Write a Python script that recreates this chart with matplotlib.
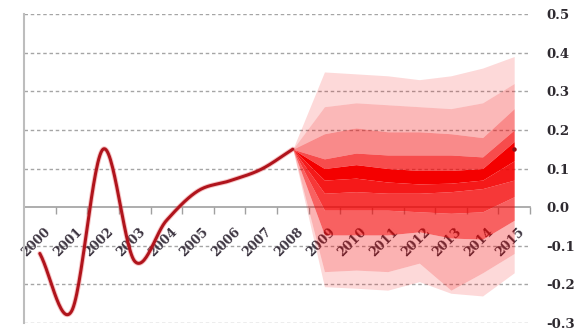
import numpy as np
import matplotlib
matplotlib.use("Agg")
import matplotlib.pyplot as plt
import matplotlib.transforms as mtransforms

# ---- data -------------------------------------------------------------
years = [str(y) for y in range(2000, 2016)]

# observed series, 2000-2008
hist_years = list(range(2000, 2009))
hist_values = [-0.12, -0.27, 0.15, -0.14, -0.035, 0.042, 0.068, 0.098, 0.15]

# projection fan, 2008-2015: band boundaries from top to bottom
fan_years = list(range(2008, 2016))
fan_b0 = [0.15, 0.350, 0.345, 0.340, 0.330, 0.340, 0.360, 0.390]
fan_b1 = [0.15, 0.260, 0.270, 0.265, 0.260, 0.255, 0.270, 0.320]
fan_b2 = [0.15, 0.190, 0.205, 0.195, 0.195, 0.190, 0.180, 0.255]
fan_b3 = [0.15, 0.125, 0.140, 0.135, 0.135, 0.135, 0.130, 0.200]
fan_b4 = [0.15, 0.100, 0.110, 0.100, 0.095, 0.095, 0.100, 0.170]
fan_b5 = [0.15, 0.070, 0.075, 0.065, 0.060, 0.062, 0.070, 0.120]
fan_b6 = [0.15, 0.036, 0.040, 0.036, 0.036, 0.040, 0.048, 0.070]
fan_b7 = [0.15, -0.008, -0.008, -0.008, -0.012, -0.016, -0.012, 0.027]
fan_b8 = [0.15, -0.072, -0.072, -0.072, -0.064, -0.080, -0.083, -0.034]
fan_b9 = [0.15, -0.167, -0.163, -0.167, -0.145, -0.215, -0.170, -0.120]
fan_b10 = [0.15, -0.206, -0.210, -0.215, -0.193, -0.223, -0.230, -0.170]
fan_median = [0.15, 0.085, 0.092, 0.082, 0.078, 0.078, 0.085, 0.150]

y_ticks = [0.5, 0.4, 0.3, 0.2, 0.1, 0.0, -0.1, -0.2, -0.3]
y_labels = ["0.5", "0.4", "0.3", "0.2", "0.1", "0.0", "-0.1", "-0.2", "-0.3"]

# ---- helpers ----------------------------------------------------------
def smooth_curve(x, y, n=30):
    """Catmull-Rom spline through the points (spreadsheet-style smoothed line)."""
    x = np.asarray(x, float)
    y = np.asarray(y, float)
    px = np.concatenate([[2 * x[0] - x[1]], x, [2 * x[-1] - x[-2]]])
    py = np.concatenate([[2 * y[0] - y[1]], y, [2 * y[-1] - y[-2]]])
    xs, ys = [], []
    t = np.linspace(0, 1, n, endpoint=False)
    for i in range(1, len(px) - 2):
        p0, p1, p2, p3 = py[i - 1], py[i], py[i + 1], py[i + 2]
        q0, q1, q2, q3 = px[i - 1], px[i], px[i + 1], px[i + 2]
        for arr, a0, a1, a2, a3 in ((ys, p0, p1, p2, p3), (xs, q0, q1, q2, q3)):
            arr.extend(0.5 * ((2 * a1) + (-a0 + a2) * t
                              + (2 * a0 - 5 * a1 + 4 * a2 - a3) * t ** 2
                              + (-a0 + 3 * a1 - 3 * a2 + a3) * t ** 3))
    xs.append(x[-1])
    ys.append(y[-1])
    return np.array(xs), np.array(ys)

# ---- figure -----------------------------------------------------------
fig = plt.figure(figsize=(5.82, 3.34), dpi=100)
ax = fig.add_axes([24 / 582, 1 - 323 / 334, (530 - 24) / 582, (323 - 14) / 334])

idx = {y: i for i, y in enumerate(range(2000, 2016))}
hx = [idx[y] for y in hist_years]
fx = [idx[y] for y in fan_years]

ax.set_xlim(-0.5, len(years) - 0.5)
ax.set_ylim(-0.3, 0.5)

# dashed horizontal grid
for yv in y_ticks:
    if yv != 0.0:
        ax.axhline(yv, color="#A5A5A5", lw=1.0, ls=(0, (2.5, 2.0)), zorder=1)

# fan bands (red with varying opacity)
bounds = [fan_b0, fan_b1, fan_b2, fan_b3, fan_b4, fan_b5,
          fan_b6, fan_b7, fan_b8, fan_b9, fan_b10]
alphas = [0.15, 0.28, 0.46, 0.70, 1.00, 0.90, 0.78, 0.62, 0.30, 0.15]
for upper, lower, a in zip(bounds[:-1], bounds[1:], alphas):
    ax.fill_between(fx, lower, upper, color="#F40000", alpha=a, lw=0, zorder=2)

# median end marker
ax.plot(fx[-1:], fan_median[-1:], "o", color="#8E1016", ms=2.2, zorder=4)

# observed series
sx, sy = smooth_curve(hx, hist_values)
ax.plot(sx, sy, color="#E85A5E", lw=3.6, alpha=0.35, solid_capstyle="round", zorder=3)
ax.plot(sx, sy, color="#B0141C", lw=2.2, solid_capstyle="round", zorder=4)

# spines
for s in ("top", "right"):
    ax.spines[s].set_visible(False)
ax.spines["left"].set_color("#BDBDBD")
ax.spines["left"].set_linewidth(1.5)
ax.spines["bottom"].set_position(("data", 0.0))
ax.spines["bottom"].set_color("#A0A0A0")
ax.spines["bottom"].set_linewidth(1.2)
ax.spines["bottom"].set_zorder(1.5)

# x axis: labels at category centres, tick marks at category boundaries
ax.set_xticks(range(len(years)))
ax.set_xticklabels(years, rotation=45, ha="right", va="top", rotation_mode="anchor",
                   fontsize=9, fontweight="bold", color="#3C3440", family="DejaVu Serif")
ax.tick_params(axis="x", which="major", length=0, pad=13)
ax.set_xticks(np.arange(0.5, len(years), 1.0), minor=True)
ax.tick_params(axis="x", which="minor", length=5, width=1.0, color="#A0A0A0", direction="out")
offset = mtransforms.ScaledTranslation(4 / 100, 0, fig.dpi_scale_trans)
for lbl in ax.get_xticklabels():
    lbl.set_transform(lbl.get_transform() + offset)

# y axis on the right
ax.yaxis.tick_right()
ax.set_yticks(y_ticks)
ax.set_yticklabels(y_labels, fontsize=9.5, fontweight="bold", color="#2E2A30",
                   family="DejaVu Serif")
ax.tick_params(axis="y", length=0, pad=12)

fig.savefig("out.png", dpi=100)
